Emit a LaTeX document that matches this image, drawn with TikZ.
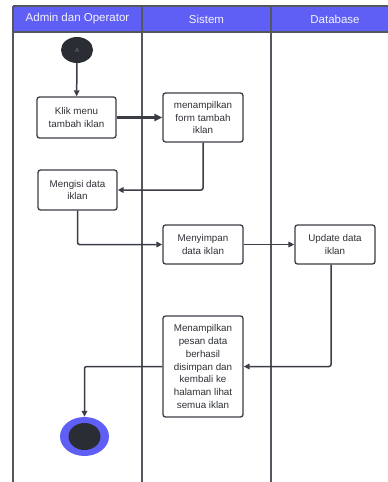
\documentclass[tikz,border=0pt]{standalone}
\usepackage{fontspec}
\setmainfont{Liberation Sans}
\usetikzlibrary{arrows.meta,shapes.geometric}
\definecolor{hdr}{HTML}{5F5FF5}
\definecolor{lane}{HTML}{55575F}
\definecolor{ink}{HTML}{3A3D45}
\definecolor{dark}{HTML}{2A2D34}
\tikzset{
  actbox/.style={draw=ink, line width=1.3pt, rounded corners=2.5pt, fill=white,
    align=center, inner sep=1pt, font=\fontsize{9.8}{12.8}\selectfont, text=ink!80!black},
  flow/.style={draw=ink, line width=1.5pt, rounded corners=2pt, -{Triangle[length=6pt,width=5.5pt]}},
  boldflow/.style={draw=ink, line width=2.6pt, -{Triangle[length=8pt,width=7pt]}},
  lanetitle/.style={text=white!92!hdr, font=\fontsize{11.5}{13}\selectfont},
  laneline/.style={draw=lane, line width=1.6pt}
}
\begin{document}
\begin{tikzpicture}[x=1pt,y=-1pt]
\useasboundingbox (0,0) rectangle (388,482);
% header
\fill[hdr] (13,6) rectangle (390,32);
\draw[laneline] (13,6) -- (390,6);
\draw[laneline] (13,32) -- (390,32);
\draw[laneline] (13,6) -- (13,484);
\draw[laneline] (142,6) -- (142,484);
\draw[laneline] (271,6) -- (271,484);
\node[lanetitle] (h1) at (77.5,19) {Admin dan Operator};
\node[lanetitle] (h2) at (206.5,19) {Sistem};
\node[lanetitle] (h3) at (335,19) {Database};
% start
\node[ellipse, fill=dark, minimum width=32pt, minimum height=26pt, inner sep=0pt,
      text=ink!70!white, font=\fontsize{6}{7}\selectfont] (start) at (77,50) {A};
% activities
\node[actbox, minimum width=79pt, minimum height=41pt] (klik) at (76.5,117.5) {Klik menu\\tambah iklan};
\node[actbox, minimum width=80pt, minimum height=49pt] (form) at (203,117.5) {menampilkan\\form tambah\\iklan};
\node[actbox, minimum width=79pt, minimum height=40pt] (isi) at (77.5,190) {Mengisi data\\iklan};
\node[actbox, minimum width=80pt, minimum height=39pt] (simpan) at (203,244.5) {Menyimpan\\data iklan};
\node[actbox, minimum width=80pt, minimum height=39pt] (update) at (335,244.5) {Update data\\iklan};
\node[actbox, minimum width=80pt, minimum height=101pt] (pesan) at (203,366.5) {Menampilkan\\pesan data\\berhasil\\disimpan dan\\kembali ke\\halaman lihat\\semua iklan};
% end
\node[ellipse, fill=hdr, minimum width=49pt, minimum height=39pt, inner sep=0pt] (end) at (84.5,436.5) {};
\node[ellipse, fill=dark, minimum width=32pt, minimum height=27pt, inner sep=0pt] (endin) at (end.center) {};
% connectors
\draw[flow] (start) -- (klik);
\draw[boldflow] (klik) -- (form);
\draw[flow] (form.south) |- (isi.east);
\draw[flow] (isi.south) |- (simpan.west);
\draw[flow] (simpan) -- (update);
\draw[flow] ([xshift=-4pt]update.south) |- (pesan.east);
\draw[flow] (pesan.west) -| (end.north);
\end{tikzpicture}
\end{document}
